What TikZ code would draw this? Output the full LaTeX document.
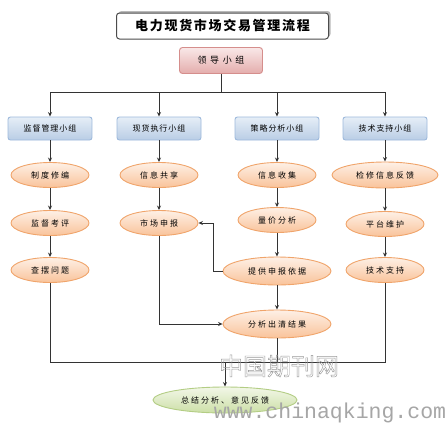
\documentclass[tikz,border=0pt]{standalone}
\usepackage{fontspec}
\usetikzlibrary{shapes.geometric,arrows.meta,shadows}
\newfontfamily\cjktitle[LetterSpace=13]{Noto Sans CJK SC}
\newfontfamily\cjklead[LetterSpace=40]{Noto Sans CJK SC}
\newfontfamily\cjkgrp[LetterSpace=12]{Noto Sans CJK SC}
\newfontfamily\cjkell[LetterSpace=25]{Noto Sans CJK SC}
\newfontfamily\cjkwm{Noto Sans CJK SC}
\newfontfamily\wmmono{Liberation Mono}
\definecolor{ellTop}{HTML}{FEF0E6}
\definecolor{ellBot}{HTML}{F9C39A}
\definecolor{ellLine}{HTML}{F0A46A}
\definecolor{grpTop}{HTML}{E6EEF7}
\definecolor{grpBot}{HTML}{B9CDE5}
\definecolor{grpLine}{HTML}{9DB9DC}
\definecolor{leadTop}{HTML}{F9E8E8}
\definecolor{leadBot}{HTML}{E4ADAC}
\definecolor{leadLine}{HTML}{D58E8C}
\definecolor{grnTop}{HTML}{F2F7E8}
\definecolor{grnBot}{HTML}{CCDFA6}
\definecolor{grnLine}{HTML}{B3CD84}
\definecolor{wire}{HTML}{333333}
\tikzset{
  grp/.style={rectangle, rounded corners=2.5pt, minimum width=84pt, minimum height=23pt, inner sep=0pt,
    top color=grpTop, bottom color=grpBot, draw=grpLine, line width=0.9pt, font=\cjkgrp\fontsize{8}{8}\selectfont},
  ell/.style={ellipse, minimum width=78pt, minimum height=25pt, inner sep=0pt,
    top color=ellTop, bottom color=ellBot, draw=ellLine, line width=0.9pt, font=\cjkell\fontsize{8}{8}\selectfont},
  wide/.style={ell, minimum width=108pt, minimum height=28pt},
  lnk/.style={draw=wire, line width=0.9pt},
  arr/.style={lnk, -{Stealth[length=4.5pt,width=4pt]}},
}
\newcommand{\outlinetext}[1]{\special{pdf:literal direct 1 Tr 0.45 w}#1\special{pdf:literal direct 0 Tr}}
\begin{document}
\begin{tikzpicture}[x=1pt,y=-1pt]
\useasboundingbox[fill=white] (0,0) rectangle (445,424);
% title
\node[rectangle, rounded corners=3pt, minimum width=212pt, minimum height=26pt, draw=gray!60!black, line width=1pt, fill=white,
  drop shadow={shadow xshift=2pt, shadow yshift=2pt, fill=gray!55, opacity=1},
  font=\cjktitle\bfseries\fontsize{13}{13}\selectfont] (title) at (222.5,26) {电力现货市场交易管理流程};
% leader
\node[rectangle, rounded corners=3pt, minimum width=83pt, minimum height=26pt, inner sep=0pt,
  top color=leadTop, bottom color=leadBot, draw=leadLine, line width=0.9pt,
  font=\cjklead\fontsize{9}{9}\selectfont] (lead) at (221,60.5) {领导小组};
% groups
\node[grp] (g1) at (50,128.5) {监督管理小组};
\node[grp] (g2) at (159,128.5) {现货执行小组};
\node[grp] (g3) at (277,128.5) {策略分析小组};
\node[grp] (g4) at (385,128.5) {技术支持小组};
% row 1
\node[ell] (a1) at (50,175) {制度修编};
\node[ell] (a2) at (159,175) {信息共享};
\node[ell] (a3) at (277,175) {信息收集};
\node[ell, minimum width=106pt, minimum height=26pt] (a4) at (385,175) {检修信息反馈};
% row 2
\node[ell] (b1) at (50,223) {监督考评};
\node[ell] (b2) at (159,223) {市场申报};
\node[ell] (b3) at (277,220) {量价分析};
\node[ell] (b4) at (385,224) {平台维护};
% row 3
\node[ell] (c1) at (50,270) {查摆问题};
\node[wide] (c3) at (277,271) {提供申报依据};
\node[ell] (c4) at (385,270) {技术支持};
% result
\node[wide] (res) at (277,324) {分析出清结果};
% summary
\node[ellipse, minimum width=144pt, minimum height=26pt, inner sep=0pt, top color=grnTop, bottom color=grnBot,
  draw=grnLine, line width=0.9pt, font=\cjkell\fontsize{8}{8}\selectfont] (sum) at (225,400) {总结分析、意见反馈};
% connectors top
\coordinate (bus) at (221,92);
\draw[lnk] (lead.south) -- (bus);
\draw[arr] (bus) -| (g1.north);
\draw[arr] (bus) -| (g2.north);
\draw[arr] (bus) -| (g3.north);
\draw[arr] (bus) -| (g4.north);
% columns
\draw[arr] (g1.south) -- (a1.north);
\draw[arr] (a1.south) -- (b1.north);
\draw[arr] (b1.south) -- (c1.north);
\draw[arr] (g2.south) -- (a2.north);
\draw[arr] (a2.south) -- (b2.north);
\draw[arr] (g3.south) -- (a3.north);
\draw[arr] (a3.south) -- (b3.north);
\draw[arr] (b3.south) -- (c3.north);
\draw[arr] (g4.south) -- (a4.north);
\draw[arr] (a4.south) -- (b4.north);
\draw[arr] (b4.south) -- (c4.north);
\draw[arr] (c3.south) -- (res.north);
\draw[arr] (b2.south) |- (res.west);
\draw[arr] (c3.west) -- ++(-9,0) |- (b2.east);
% bottom bus
\coordinate (bl) at (50,362);
\coordinate (br) at (385,362);
\draw[lnk] (c1.south) -- (bl) -- (br) -- (c4.south);
\draw[lnk] (res.south) -- (res.south |- bl);
\draw[arr] (sum.north |- bl) -- (sum.north);
% watermark
\node[text=gray!80, font=\cjkwm\fontsize{24}{24}\selectfont, inner sep=0pt] (wm1) at (279,366) {\outlinetext{中国期刊网}};
\node[text=gray!70, font=\wmmono\fontsize{21.5}{21.5}\selectfont, inner sep=0pt] (wm2) at (330,413) {www.chinaqking.com};
\end{tikzpicture}
\end{document}
